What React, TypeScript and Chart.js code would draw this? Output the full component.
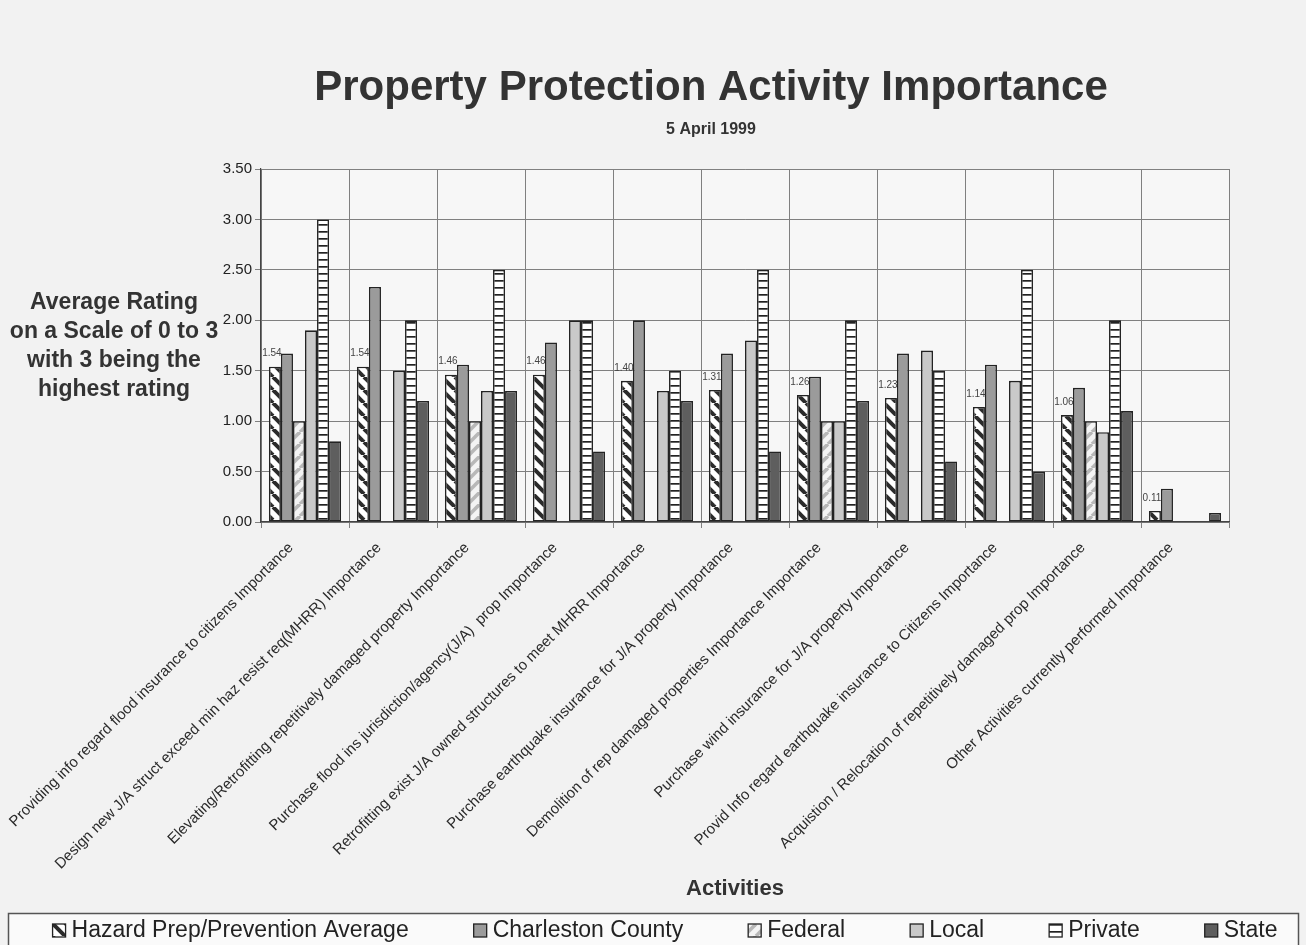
import React, { useEffect, useRef } from 'react';
import { Chart, registerables } from 'chart.js';

Chart.register(...registerables);

const W = 1306;
const H = 945;
const FONT = "'Liberation Sans', Arial, Helvetica, sans-serif";

const titleText = 'Property Protection Activity Importance';
const subtitleText = '5 April 1999';
const yTitleLines = ['Average Rating', 'on a Scale of 0 to 3', 'with 3 being the', 'highest rating'];
const xTitleText = 'Activities';

const categories = [
  'Providing info regard flood insurance to citizens Importance',
  'Design new J/A struct exceed min haz resist req(MHRR) Importance',
  'Elevating/Retrofitting repetitively damaged property Importance',
  'Purchase flood ins jurisdiction/agency(J/A)  prop Importance',
  'Retrofitting exist J/A owned structures to meet MHRR Importance',
  'Purchase earthquake insurance for J/A property Importance',
  'Demolition of rep damaged properties Importance Importance',
  'Purchase wind insurance for J/A property Importance',
  'Provid Info regard earthquake insurance to Citizens Importance',
  'Acquistion / Relocation of repetitively damaged prop Importance',
  'Other Activities currently performed Importance',
];

const seriesNames = ['Hazard Prep/Prevention Average', 'Charleston County', 'Federal', 'Local', 'Private', 'State'];

const hazardAvg = [1.54, 1.54, 1.46, 1.46, 1.40, 1.31, 1.26, 1.23, 1.14, 1.06, 0.11];
const charleston = [1.67, 2.33, 1.56, 1.78, 2.0, 1.67, 1.44, 1.67, 1.56, 1.33, 0.33];
const federal = [1.0, null, 1.0, null, null, null, 1.0, null, null, 1.0, null];
const local = [1.9, 1.5, 1.3, 2.0, 1.3, 1.8, 1.0, 1.7, 1.4, 0.89, null];
const privateVals = [3.0, 2.0, 2.5, 2.0, 1.5, 2.5, 2.0, 1.5, 2.5, 2.0, null];
const state = [0.8, 1.2, 1.3, 0.7, 1.2, 0.7, 1.2, 0.6, 0.5, 1.1, 0.09];

const yMin = 0;
const yMax = 3.5;
const yStep = 0.5;

function stripePattern(bg: string, fg: string, dir: 'back' | 'fwd', size: number, lw: number) {
  const c = document.createElement('canvas');
  c.width = size;
  c.height = size;
  const g = c.getContext('2d')!;
  g.fillStyle = bg;
  g.fillRect(0, 0, size, size);
  g.strokeStyle = fg;
  g.lineWidth = lw;
  for (const o of [-size, 0, size]) {
    g.beginPath();
    if (dir === 'back') {
      g.moveTo(o, 0);
      g.lineTo(o + size, size);
    } else {
      g.moveTo(o, size);
      g.lineTo(o + size, 0);
    }
    g.stroke();
  }
  return g.createPattern(c, 'repeat')!;
}

function ladderPattern() {
  const c = document.createElement('canvas');
  c.width = 8;
  c.height = 7;
  const g = c.getContext('2d')!;
  g.fillStyle = '#ffffff';
  g.fillRect(0, 0, 8, 7);
  g.fillStyle = '#222222';
  g.fillRect(0, 0, 8, 1.7);
  return g.createPattern(c, 'repeat')!;
}

export default function App() {
  const ref = useRef<HTMLCanvasElement>(null);

  useEffect(() => {
    const canvas = ref.current!;
    const fills: any[] = [
      stripePattern('#ffffff', '#2b2b2b', 'back', 13, 4),
      '#9b9b9b',
      stripePattern('#f4f4f4', '#b8b8b8', 'fwd', 12, 3.6),
      '#c9c9c9',
      ladderPattern(),
      '#5e5e5e',
    ];
    const values = [hazardAvg, charleston, federal, local, privateVals, state];

    const decor = {
      id: 'decor',
      beforeDraw(chart: any) {
        const { ctx, chartArea } = chart;
        ctx.save();
        ctx.fillStyle = '#f2f2f2';
        ctx.fillRect(0, 0, W, H);
        ctx.fillStyle = '#f7f7f7';
        ctx.fillRect(chartArea.left, chartArea.top, chartArea.right - chartArea.left, chartArea.bottom - chartArea.top);
        ctx.restore();
      },
      afterDatasetsDraw(chart: any) {
        const { ctx } = chart;
        const meta = chart.getDatasetMeta(0);
        ctx.save();
        ctx.font = `10px ${FONT}`;
        ctx.fillStyle = '#444';
        ctx.textAlign = 'center';
        ctx.textBaseline = 'bottom';
        meta.data.forEach((el: any, i: number) => {
          const v = hazardAvg[i];
          if (v == null) return;
          ctx.fillText(v.toFixed(2), el.x - 3, el.y - 8);
        });
        ctx.restore();
      },
      afterDraw(chart: any) {
        const { ctx } = chart;
        ctx.save();
        ctx.fillStyle = '#333';
        ctx.textAlign = 'center';
        ctx.textBaseline = 'alphabetic';
        ctx.font = `bold 42px ${FONT}`;
        ctx.fillText(titleText, 711, 100);
        ctx.font = `bold 16px ${FONT}`;
        ctx.fillText(subtitleText, 711, 134);
        ctx.font = `bold 23px ${FONT}`;
        yTitleLines.forEach((t, i) => ctx.fillText(t, 114, 309 + i * 29));
        ctx.font = `bold 22px ${FONT}`;
        ctx.fillText(xTitleText, 735, 895);

        // legend
        ctx.fillStyle = '#fafafa';
        ctx.fillRect(8, 913, 1291, 32);
        ctx.strokeStyle = '#555';
        ctx.lineWidth = 1.5;
        ctx.strokeRect(8.5, 913.5, 1290, 40);
        ctx.font = `23px ${FONT}`;
        const widths = seriesNames.map((n) => ctx.measureText(n).width);
        const gap = 65;
        const total = widths.reduce((a, b) => a + b + 19, 0) + gap * (seriesNames.length - 1);
        let x = 665 - total / 2;
        ctx.textAlign = 'left';
        ctx.textBaseline = 'middle';
        seriesNames.forEach((n, i) => {
          ctx.fillStyle = fills[i];
          ctx.fillRect(x, 924, 13, 13);
          ctx.strokeStyle = '#222';
          ctx.lineWidth = 1.3;
          ctx.strokeRect(x, 924, 13, 13);
          ctx.fillStyle = '#222';
          ctx.fillText(n, x + 19, 931);
          x += 19 + widths[i] + gap;
        });
        ctx.restore();
      },
    };

    const chart = new Chart(canvas, {
      type: 'bar',
      data: {
        labels: categories,
        datasets: seriesNames.map((name, i) => ({
          label: name,
          data: values[i] as any,
          backgroundColor: fills[i],
          borderColor: '#232323',
          borderWidth: 1.6,
          borderSkipped: false,
          barPercentage: 1,
          categoryPercentage: 0.82,
        })),
      },
      options: {
        responsive: false,
        animation: false,
        devicePixelRatio: 1,
        layout: { padding: { top: 169, left: 0, right: 77, bottom: 40 } },
        plugins: {
          legend: { display: false },
          title: { display: false },
          tooltip: { enabled: false },
        },
        scales: {
          x: {
            grid: { offset: true, color: '#808080', lineWidth: 1, tickLength: 6 },
            border: { color: '#444', width: 1.2 },
            ticks: {
              autoSkip: false,
              maxRotation: 45,
              minRotation: 45,
              color: '#2a2a2a',
              padding: 11,
              labelOffset: -14,
              font: { family: FONT, size: 15 },
            },
            afterFit: (s: any) => {
              s.height = 383;
              s.paddingLeft = 0;
              s.paddingRight = 0;
            },
          },
          y: {
            min: yMin,
            max: yMax,
            grid: { color: '#808080', lineWidth: 1, tickLength: 6 },
            border: { color: '#444', width: 1.2 },
            ticks: {
              stepSize: yStep,
              color: '#222',
              padding: 3,
              font: { family: FONT, size: 15 },
              callback: (v: any) => Number(v).toFixed(2),
            },
            afterFit: (s: any) => {
              s.width = 261;
            },
          },
        },
      },
      plugins: [decor],
    });
    return () => chart.destroy();
  }, []);

  return (
    <div style={{ position: 'absolute', left: 0, top: 0, width: W, height: H, background: '#f2f2f2' }}>
      <canvas ref={ref} width={W} height={H} style={{ display: 'block', width: W, height: H }} />
    </div>
  );
}
